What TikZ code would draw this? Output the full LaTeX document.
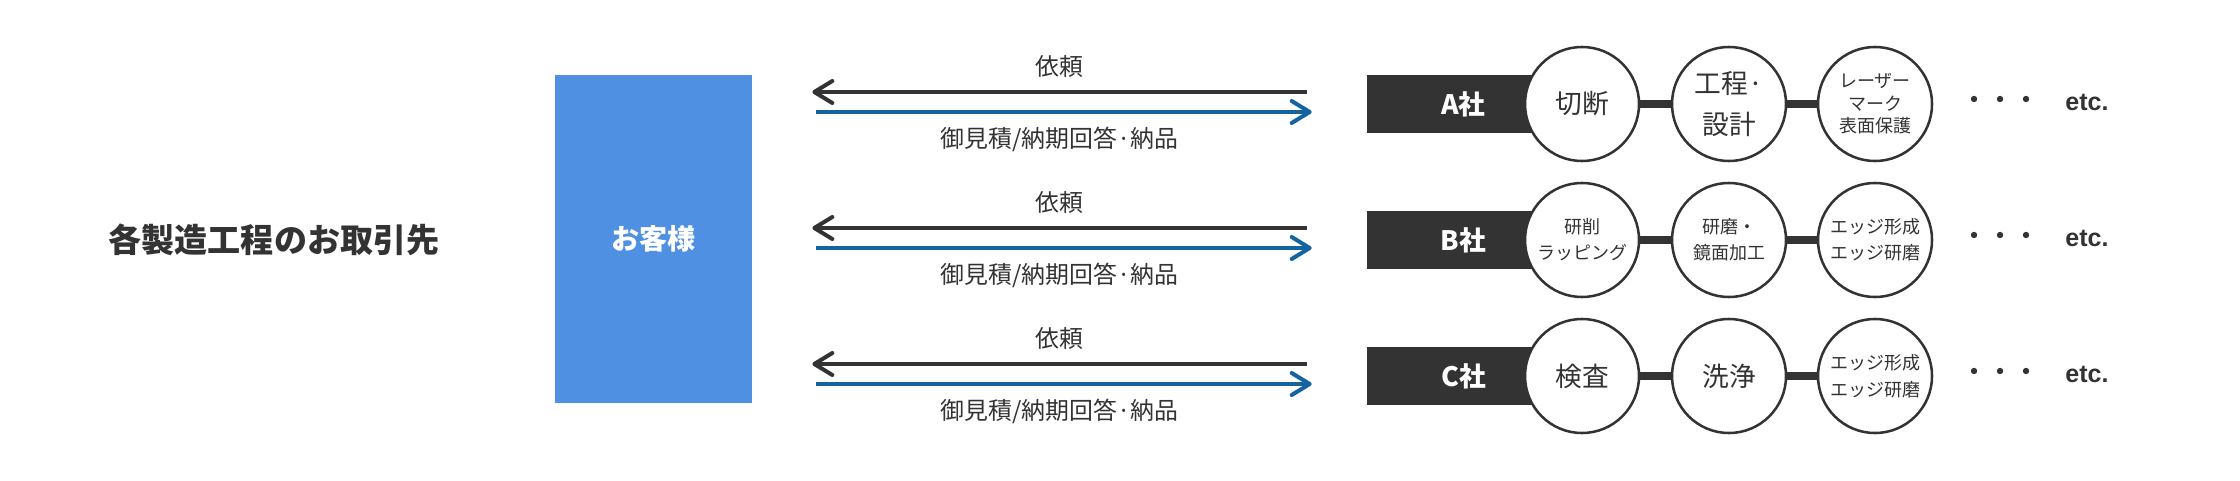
\documentclass[tikz,border=0pt]{standalone}
\usepackage{fontspec}
\setmainfont{Noto Sans CJK JP}
\newfontfamily\etcfont{Liberation Sans}
\usepackage{tikz}
\usetikzlibrary{arrows.meta}
\definecolor{ink}{HTML}{333333}
\definecolor{clientblue}{HTML}{4F90E2}
\definecolor{replyblue}{HTML}{14649F}

\begin{document}
\begin{tikzpicture}[x=0.025cm, y=-0.025cm,
    company/.style={fill=ink, text=white, font=\fontsize{19}{19}\selectfont\bfseries, minimum width=4.825cm, minimum height=1.45cm, inner sep=0pt},
    process/.style={circle, draw=ink, line width=1.8pt, fill=white, text=ink, minimum size=2.85cm, inner sep=0pt, align=center, font=\fontsize{19}{28.5}\selectfont},
    small/.style={font=\fontsize{12.8}{18.5}\selectfont},
    link/.style={ink, line width=6pt},
    request/.style={ink, line width=2.85pt, -{Straight Barb[length=0.45cm, width=0.55cm, round]}, shorten <=1.5cm, shorten >=1.5cm},
    reply/.style={replyblue, line width=2.85pt, -{Straight Barb[length=0.45cm, width=0.55cm, round]}, shorten <=1.6cm, shorten >=1.375cm},
    caption/.style={text=ink, font=\fontsize{17}{17}\selectfont},
    dot/.style={circle, fill=ink, inner sep=0pt, minimum size=0.16cm},
    etc/.style={text=ink, font=\etcfont\fontsize{17.8}{17.8}\selectfont\bfseries}]
        \useasboundingbox (0,0) rectangle (2240,480);

        \node[text=ink, font=\fontsize{23.5}{23.5}\selectfont\bfseries] (title) at (274,240) {各製造工程のお取引先};
        \node[fill=clientblue, text=white, minimum width=4.925cm, minimum height=8.2cm, font=\fontsize{20}{20}\selectfont\bfseries] (client) at (653.5,239) {お客様};

        % companies
        \node[company] (A) at (1463.5,104) {A社};
        \node[company] (B) at (1463.5,240) {B社};
        \node[company] (C) at (1463.5,376) {C社};

        % processes
        \node[process] (A1) at (1582,104) {切断};
        \node[process] (A2) at (1729,104) {工程·\\設計};
        \node[process, small, font=\fontsize{12.8}{16}\selectfont] (A3) at (1875,104) {レーザー\\マーク\\表面保護};
        \node[process, small] (B1) at (1582,240) {研削\\ラッピング};
        \node[process, small] (B2) at (1729,240) {研磨・\\鏡面加工};
        \node[process, small] (B3) at (1875,240) {エッジ形成\\エッジ研磨};
        \node[process] (C1) at (1582,376) {検査};
        \node[process] (C2) at (1729,376) {洗浄};
        \node[process, small, font=\fontsize{12.8}{19.5}\selectfont] (C3) at (1875,376) {エッジ形成\\エッジ研磨};

        \draw[link] (A1) -- (A2);
        \draw[link] (A2) -- (A3);
        \draw[link] (B1) -- (B2);
        \draw[link] (B2) -- (B3);
        \draw[link] (C1) -- (C2);
        \draw[link] (C2) -- (C3);

        \node[dot] (A4) at (1974,99) {};
        \node[dot] (A5) at (2000,99) {};
        \node[dot] (A6) at (2026,99) {};
        \node[etc] (Aetc) at (2087,102) {etc.};
        \node[dot] (B4) at (1974,235) {};
        \node[dot] (B5) at (2000,235) {};
        \node[dot] (B6) at (2026,235) {};
        \node[etc] (Betc) at (2087,238) {etc.};
        \node[dot] (C4) at (1974,371) {};
        \node[dot] (C5) at (2000,371) {};
        \node[dot] (C6) at (2026,371) {};
        \node[etc] (Cetc) at (2087,374) {etc.};

        % requests and replies
        \draw[request] ([yshift=0.3cm]A.west) -- ([yshift=0.3cm]A.west -| client.east) node[caption, midway, yshift=0.65cm] {依頼};
        \draw[reply] ([yshift=-0.2cm]A.west -| client.east) -- ([yshift=-0.2cm]A.west) node[caption, midway, yshift=-0.675cm] {御見積/納期回答·納品};
        \draw[request] ([yshift=0.3cm]B.west) -- ([yshift=0.3cm]B.west -| client.east) node[caption, midway, yshift=0.65cm] {依頼};
        \draw[reply] ([yshift=-0.2cm]B.west -| client.east) -- ([yshift=-0.2cm]B.west) node[caption, midway, yshift=-0.675cm] {御見積/納期回答·納品};
        \draw[request] ([yshift=0.3cm]C.west) -- ([yshift=0.3cm]C.west -| client.east) node[caption, midway, yshift=0.65cm] {依頼};
        \draw[reply] ([yshift=-0.2cm]C.west -| client.east) -- ([yshift=-0.2cm]C.west) node[caption, midway, yshift=-0.675cm] {御見積/納期回答·納品};
\end{tikzpicture}
\end{document}
